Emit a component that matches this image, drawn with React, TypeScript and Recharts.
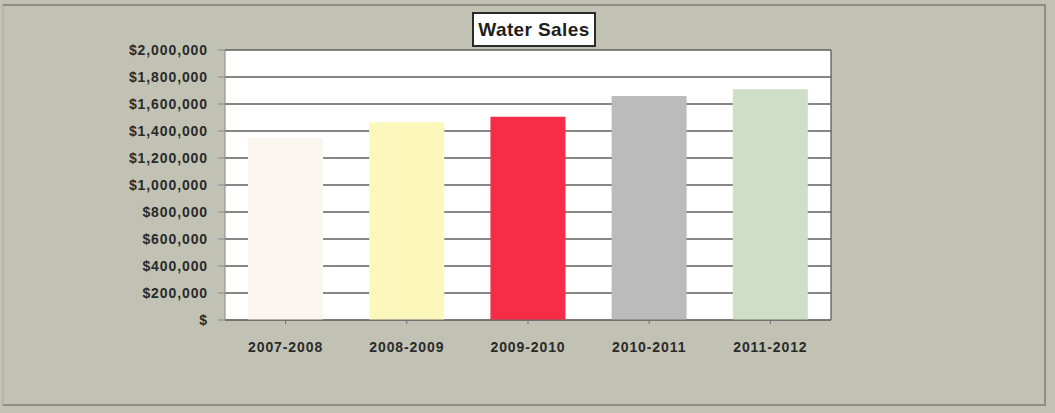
import React from 'react';
import { BarChart, Bar, XAxis, YAxis, CartesianGrid, Cell } from 'recharts';

const years = ['2007-2008', '2008-2009', '2009-2010', '2010-2011', '2011-2012'];
const sales = [1350000, 1465000, 1505000, 1660000, 1710000];
const barColors = ['#faf5ef', '#fcf8bc', '#f92c47', '#bbbbbb', '#cfdfc7'];
const yTicks = [0, 200000, 400000, 600000, 800000, 1000000, 1200000, 1400000, 1600000, 1800000, 2000000];

const data = years.map((year, i) => ({ year, sales: sales[i] }));

const money = (v: number) => (v === 0 ? '$' : '$' + v.toLocaleString('en-US'));

const tickStyle = {
  fill: '#2a2a2a',
  fontSize: 14,
  fontWeight: 700,
  fontFamily: '"Liberation Sans", Arial, sans-serif',
  letterSpacing: 0.9,
};

export default function App() {
  return (
    <div
      style={{
        position: 'absolute',
        left: 0,
        top: 0,
        width: 1055,
        height: 413,
        background: '#c1c2b4',
        overflow: 'hidden',
      }}
    >
      <div
        style={{
          position: 'absolute',
          left: 2,
          top: 4,
          width: 1044,
          height: 402,
          border: '2px solid #8d8e85',
          borderLeftColor: '#b4b5a8',
          boxSizing: 'border-box',
        }}
      />
      <BarChart
        width={1055}
        height={413}
        data={data}
        margin={{ top: 50, right: 224, bottom: 63, left: 0 }}
        barCategoryGap="19%"
      >
        <CartesianGrid
          fill="#ffffff"
          stroke="#5e5e5e"
          strokeWidth={1.3}
          vertical
          verticalCoordinatesGenerator={({ offset }: any) => [offset.left + offset.width]}
        />
        <XAxis
          dataKey="year"
          height={30}
          tickSize={4}
          tickMargin={18}
          stroke="#6f6f6f"
          tick={tickStyle}
        />
        <YAxis
          width={225}
          domain={[0, 2000000]}
          ticks={yTicks}
          interval={0}
          tickFormatter={money}
          tickSize={7}
          tickMargin={10}
          stroke="#8a8a8a"
          tick={tickStyle}
        />
        <Bar dataKey="sales" isAnimationActive={false}>
          {data.map((d, i) => (
            <Cell key={d.year} fill={barColors[i]} />
          ))}
        </Bar>
      </BarChart>
      <div
        style={{
          position: 'absolute',
          left: 472,
          top: 12,
          width: 124,
          height: 35,
          boxSizing: 'border-box',
          border: '2px solid #2b2b2b',
          background: '#ffffff',
          display: 'flex',
          alignItems: 'center',
          justifyContent: 'center',
          fontFamily: '"Liberation Sans", Arial, sans-serif',
          fontWeight: 700,
          fontSize: 19,
          letterSpacing: 0.4,
          color: '#1e1e1e',
        }}
      >
        Water Sales
      </div>
    </div>
  );
}
